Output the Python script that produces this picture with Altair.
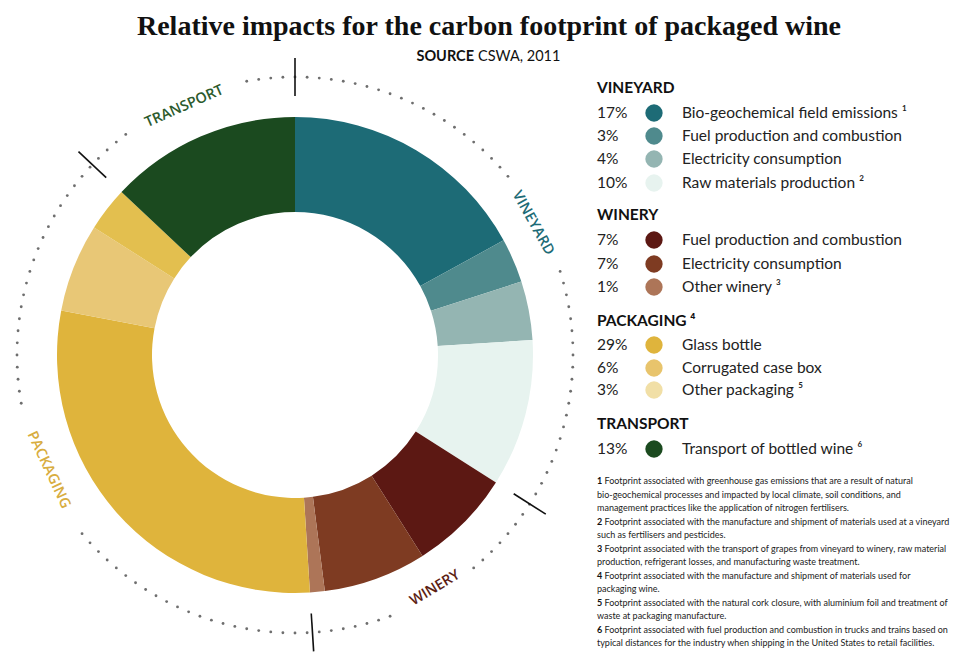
import altair as alt
import numpy as np
import pandas as pd

# ---------------- data ----------------
groups = ["VINEYARD", "VINEYARD", "VINEYARD", "VINEYARD",
          "WINERY", "WINERY", "WINERY",
          "PACKAGING", "PACKAGING", "PACKAGING",
          "TRANSPORT"]
items = ["Bio-geochemical field emissions", "Fuel production and combustion",
         "Electricity consumption", "Raw materials production",
         "Fuel production and combustion", "Electricity consumption", "Other winery",
         "Glass bottle", "Corrugated case box", "Other packaging",
         "Transport of bottled wine"]
notes = ["¹", "", "", "²", "", "", "³", "", "", "⁵", "⁶"]
values = [17, 3, 4, 10, 7, 7, 1, 29, 6, 3, 13]
arc_colors = ["#1d6b76", "#4f8a8d", "#94b5b2", "#e7f3ef",
              "#5c1813", "#7e3b22", "#ad7558",
              "#dfb43c", "#e8c776", "#e3bf4f",
              "#1b4a1f"]
legend_colors = ["#1d6b76", "#4f8a8d", "#94b5b2", "#e7f3ef",
                 "#5c1813", "#7e3b22", "#ad7558",
                 "#dfb43c", "#e8c46c", "#f1dfa6",
                 "#1b4a1f"]
group_names = ["VINEYARD", "WINERY", "PACKAGING", "TRANSPORT"]
group_headers = ["VINEYARD", "WINERY", "PACKAGING ⁴", "TRANSPORT"]
group_label_colors = ["#1d6b76", "#5c1e14", "#d8ad40", "#2c5a2c"]

title_text = "Relative impacts for the carbon footprint of packaged wine"
footnotes = [
    ("1", "Footprint associated with greenhouse gas emissions that are a result of natural"),
    ("", "bio-geochemical processes and impacted by local climate, soil conditions, and"),
    ("", "management practices like the application of nitrogen fertilisers."),
    ("2", "Footprint associated with the manufacture and shipment of materials used at a vineyard"),
    ("", "such as fertilisers and pesticides."),
    ("3", "Footprint associated with the transport of grapes from vineyard to winery, raw material"),
    ("", "production, refrigerant losses, and manufacturing waste treatment."),
    ("4", "Footprint associated with the manufacture and shipment of materials used for"),
    ("", "packaging wine."),
    ("5", "Footprint associated with the natural cork closure, with aluminium foil and treatment of"),
    ("", "waste at packaging manufacture."),
    ("6", "Footprint associated with fuel production and combustion in trucks and trains based on"),
    ("", "typical distances for the industry when shipping in the United States to retail facilities."),
]

# ---------------- layout constants ----------------
W, H = 955, 661
CX, CY = 295, 355
R_OUT, R_IN = 238, 143
R_DOTS = 278
FONT = "Lato"

X = lambda f: alt.X(f, type="quantitative", scale=alt.Scale(domain=[0, W]), axis=None)
Y = lambda f: alt.Y(f, type="quantitative", scale=alt.Scale(domain=[H, 0]), axis=None)

ids = [f"{i:02d}" for i in range(len(values))]
df = pd.DataFrame({"id": ids, "order": range(len(values)), "value": values,
                   "group": groups, "item": items})

donut = alt.Chart(df).mark_arc(radius=R_OUT, radius2=R_IN).encode(
    theta=alt.Theta("value:Q", stack=True),
    order=alt.Order("order:Q"),
    color=alt.Color("id:N", scale=alt.Scale(domain=ids, range=arc_colors), legend=None),
    x=alt.value(CX), y=alt.value(CY),
)

# group boundaries (degrees, clockwise from top)
totals = [sum(v for v, g in zip(values, groups) if g == gn) for gn in group_names]
bounds_pct = np.concatenate([[0], np.cumsum(totals)[:-1]])
bounds_deg = bounds_pct / 100 * 360
rad = np.deg2rad(bounds_deg)
ticks = pd.DataFrame({
    "x": CX + 259 * np.sin(rad), "y": CY - 259 * np.cos(rad),
    "x2": CX + 297 * np.sin(rad), "y2": CY - 297 * np.cos(rad)})
tick_layer = alt.Chart(ticks).mark_rule(color="#111", strokeWidth=1.6).encode(
    x=X("x"), y=Y("y"), x2="x2", y2="y2")

# group label centres (degrees) and label gaps
label_center = [61, 149, 245, -24]
label_half_gap = [11, 9, 13, 12.5]
step = 2.5
dot_angles = []
a = 0.0
while a < 360:
    ok = True
    for c, hg in zip(label_center, label_half_gap):
        d = (a - c + 180) % 360 - 180
        if abs(d) < hg:
            ok = False
    if ok:
        dot_angles.append(a)
    a += step
dr = np.deg2rad(dot_angles)
dots = pd.DataFrame({"x": CX + R_DOTS * np.sin(dr), "y": CY - R_DOTS * np.cos(dr)})
dot_layer = alt.Chart(dots).mark_circle(size=8, color="#6e6e6e", opacity=1).encode(
    x=X("x"), y=Y("y"))

# ring labels
lab_rows = []
for gn, c, col in zip(group_names, label_center, group_label_colors):
    r = np.deg2rad(c)
    ang = c if (c % 360) < 90 or (c % 360) > 270 else c - 180
    lab_rows.append({"t": gn, "x": CX + 272 * np.sin(r), "y": CY - 272 * np.cos(r),
                     "ang": ang % 360, "col": col})
labs = pd.DataFrame(lab_rows)
ring_labels = alt.Chart(labs).mark_text(font="Open Sans", fontSize=14.5, fontWeight=600,
                                        baseline="middle", align="center").encode(
    x=X("x"), y=Y("y"), text="t:N", angle=alt.Angle("ang:Q", scale=None),
    color=alt.Color("col:N", scale=None))

# titles
title = alt.Chart(pd.DataFrame({"t": [title_text], "x": [489], "y": [27]})).mark_text(
    font="Liberation Serif", fontSize=28, fontWeight="bold", color="#111",
    align="center", baseline="middle").encode(x=X("x"), y=Y("y"), text="t:N")
src_b = alt.Chart(pd.DataFrame({"t": ["SOURCE"], "x": [474], "y": [57]})).mark_text(
    font=FONT, fontSize=14.5, fontWeight="bold", color="#111", align="right",
    baseline="middle").encode(x=X("x"), y=Y("y"), text="t:N")
src_n = alt.Chart(pd.DataFrame({"t": ["CSWA, 2011"], "x": [478], "y": [57]})).mark_text(
    font=FONT, fontSize=14.5, color="#111", align="left",
    baseline="middle").encode(x=X("x"), y=Y("y"), text="t:N")

# legend
LX = 597
header_y = [88, 215, 321, 424]
row_y = [113, 136, 159, 183, 240, 264, 287, 345, 368, 390, 449]
heads = pd.DataFrame({"t": group_headers, "x": [LX] * 4, "y": header_y})
head_layer = alt.Chart(heads).mark_text(font=FONT, fontSize=15.5, fontWeight="bold",
                                        color="#111", align="left", baseline="middle").encode(
    x=X("x"), y=Y("y"), text="t:N")
leg = pd.DataFrame({
    "pct": [f"{v}%" for v in values],
    "lab": [f"{it} {n}" if n else it for it, n in zip(items, notes)],
    "y": row_y, "id": ids,
    "xp": [LX] * len(values), "xc": [654] * len(values), "xl": [682] * len(values)})
pct_layer = alt.Chart(leg).mark_text(font=FONT, fontSize=15.5, color="#222", align="left",
                                     baseline="middle").encode(x=X("xp"), y=Y("y"), text="pct:N")
dot_leg = alt.Chart(leg).mark_circle(size=300, opacity=1).encode(
    x=X("xc"), y=Y("y"),
    color=alt.Color("id:N", scale=alt.Scale(domain=ids, range=legend_colors), legend=None))
lab_layer = alt.Chart(leg).mark_text(font=FONT, fontSize=15.5, color="#222", align="left",
                                     baseline="middle").encode(x=X("xl"), y=Y("y"), text="lab:N")

# footnotes
fn_y = [481 + 13.5 * i for i in range(len(footnotes))]
fn = pd.DataFrame({"num": [n for n, _ in footnotes],
                   "txt": [t for n, t in footnotes],
                   "y": fn_y, "x": [LX] * len(footnotes),
                   "xt": [LX + (7.5 if n else 0) for n, _ in footnotes]})
fn_num = alt.Chart(fn).mark_text(font=FONT, fontSize=9, fontWeight="bold", color="#111",
                                 align="left", baseline="middle").encode(
    x=X("x"), y=Y("y"), text="num:N")
fn_txt = alt.Chart(fn).mark_text(font=FONT, fontSize=9, color="#222",
                                 align="left", baseline="middle").encode(
    x=X("xt"), y=Y("y"), text="txt:N")

chart = alt.layer(
    donut, dot_layer, tick_layer, ring_labels, title, src_b, src_n,
    head_layer, pct_layer, dot_leg, lab_layer, fn_num, fn_txt
).resolve_scale(color="independent").properties(
    width=W, height=H, padding=0, autosize="none", background="white"
).configure_view(stroke=None)

chart.save("out.html", embed_options={"renderer": "svg", "actions": False})
